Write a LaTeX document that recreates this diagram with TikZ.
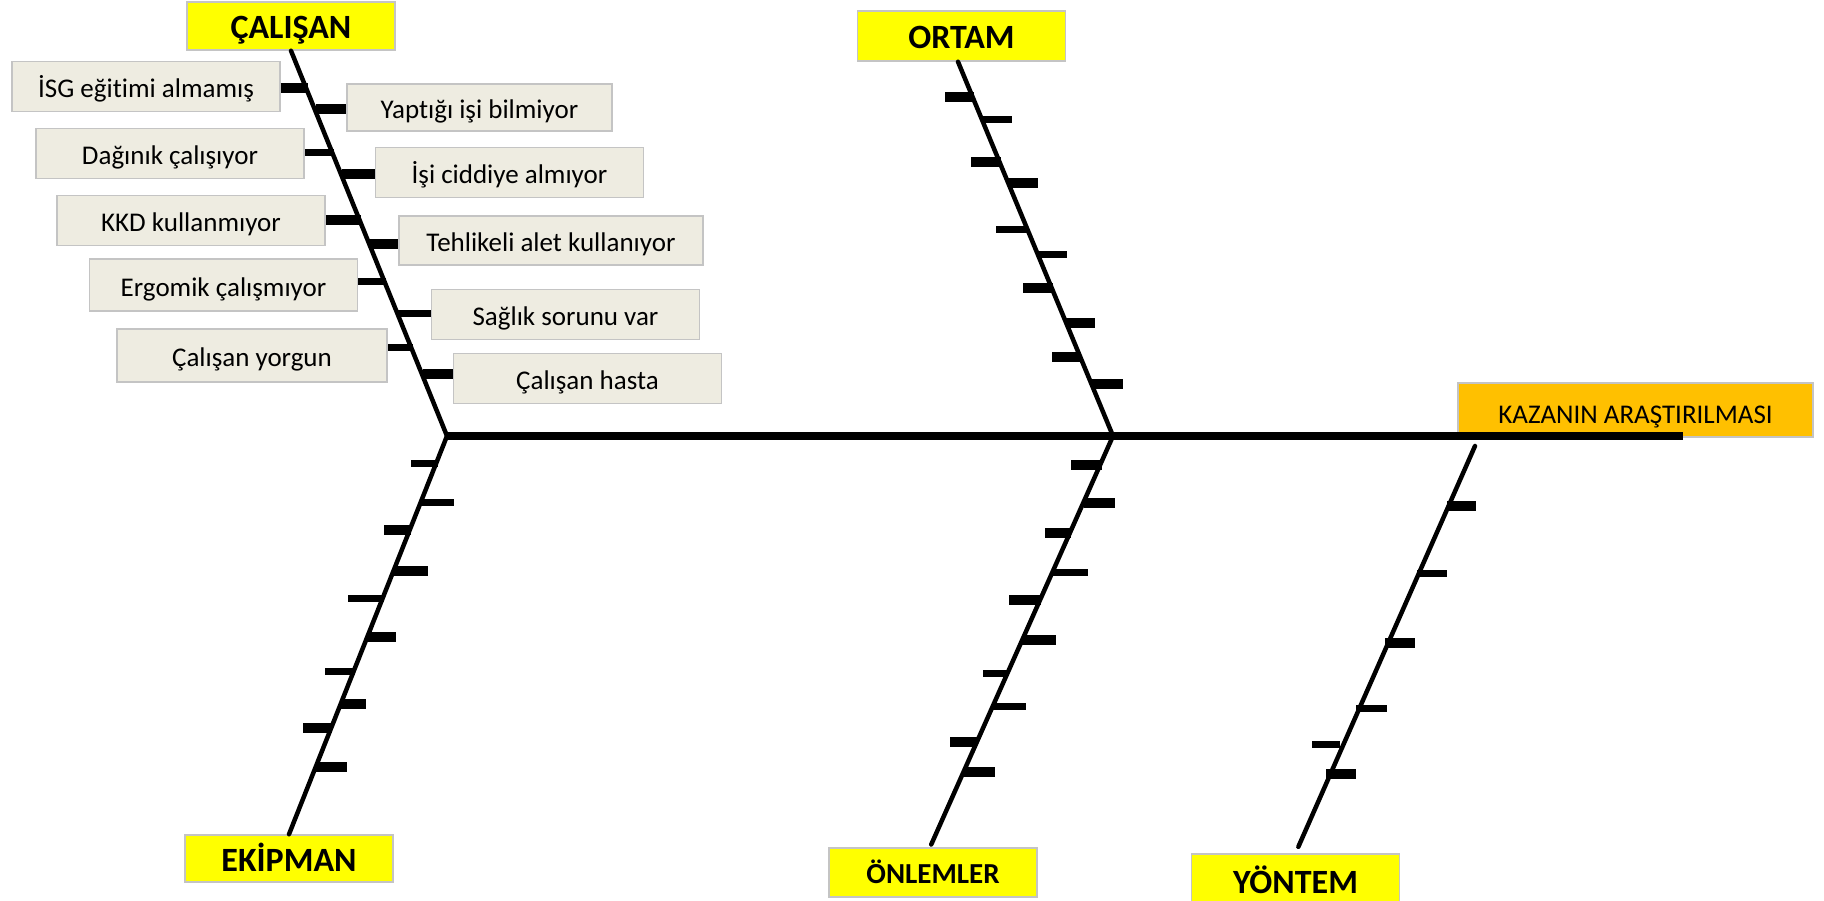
\documentclass[tikz,border=0pt]{standalone}
\usepackage{fontspec}
\setmainfont{Carlito}[RawFeature={-liga}]
\usetikzlibrary{calc}
\definecolor{lbfill}{HTML}{EEECE1}
\definecolor{lbdraw}{HTML}{C4C4C4}
\definecolor{ttfill}{HTML}{FFFF00}
\definecolor{hdfill}{HTML}{FFC000}
\tikzset{
  lbl/.style={draw=lbdraw, line width=1.5pt, fill=lbfill, minimum width=268pt, minimum height=50pt,
    inner sep=0pt, text height=22pt, text depth=0pt, font=\fontsize{27}{32}\selectfont, text=black},
  ttl/.style={draw=lbdraw, line width=1.5pt, fill=ttfill, minimum width=208pt, minimum height=48pt,
    inner sep=0pt, text height=25pt, text depth=0pt, font=\fontsize{34}{40}\selectfont\bfseries, text=black},
  hd/.style={draw=lbdraw, line width=1.5pt, fill=hdfill, minimum width=355pt, minimum height=54pt,
    inner sep=0pt, text height=26pt, text depth=0pt, font=\fontsize{27}{32}\selectfont, text=black},
  bone/.style={line width=4.5pt, line cap=round},
  spine/.style={line width=7.5pt},
  tkA/.style={line width=10pt},
  tkB/.style={line width=7pt},
}
\begin{document}
\begin{tikzpicture}[x=1pt,y=-1pt]
\useasboundingbox (0,0) rectangle (1824,900);

% category boxes
\node[ttl] (cal) at (291,26) {ÇALIŞAN};
\node[ttl, minimum height=50pt] (ort) at (961.5,36) {ORTAM};
\node[ttl, minimum height=47pt] (ekp) at (289,858.5) {EKİPMAN};
\node[ttl, minimum height=49pt, font=\fontsize{29}{34}\selectfont\bfseries, text height=22pt] (onl) at (933,872.5) {ÖNLEMLER};
\node[ttl, minimum height=54pt] (yon) at (1295.5,881) {YÖNTEM};
\node[hd] (head) at (1635.5,410) {KAZANIN ARAŞTIRILMASI};

% cause labels
\node[lbl] (l1) at (146,86.5) {İSG eğitimi almamış};
\node[lbl] (l2) at (170,153.5) {Dağınık çalışıyor};
\node[lbl] (l3) at (191,220.5) {KKD kullanmıyor};
\node[lbl, minimum height=52pt] (l4) at (223.5,285) {Ergomik çalışmıyor};
\node[lbl, minimum height=53pt, minimum width=270pt] (l5) at (252,355.5) {Çalışan yorgun};
\node[lbl, minimum width=265pt, minimum height=47pt] (r1) at (479.5,107.5) {Yaptığı işi bilmiyor};
\node[lbl] (r2) at (509.5,172.5) {İşi ciddiye almıyor};
\node[lbl, minimum width=304pt, minimum height=49pt] (r3) at (551,240.5) {Tehlikeli alet kullanıyor};
\node[lbl] (r4) at (565.5,314.5) {Sağlık sorunu var};
\node[lbl] (r5) at (587.5,378.5) {Çalışan hasta};

% spine and bones
\coordinate (j1) at (447,436);
\coordinate (j2) at (1113,436);
\coordinate (yt) at (1475,446);
\coordinate (se) at (1683,436);
\draw[spine] (j1) -- (se);
\draw[bone] (cal.south) -- (j1);
\draw[bone] (j1) -- (ekp.north);
\draw[bone] ([xshift=-3.5pt]ort.south) -- (j2);
\draw[bone, shorten >=3pt] (j2) -- ([xshift=-3pt]onl.north);
\draw[bone, shorten >=7pt] (yt) -- (yon.north);

% CALISAN ticks
\draw[tkA] (l1.east |- 0,88) -- (308,88);
\draw[tkB] (l2.east |- 0,152) -- (334,152);
\draw[tkA] (l3.east |- 0,220) -- (361,220);
\draw[tkB] (l4.east |- 0,281) -- (386,281);
\draw[tkB] (l5.east |- 0,347) -- (413,347);
\draw[tkA] (316,109) -- (r1.west |- 0,109);
\draw[tkA] (342,174) -- (r2.west |- 0,174);
\draw[tkA] (370,244) -- (r3.west |- 0,244);
\draw[tkB] (398,313) -- (r4.west |- 0,313);
\draw[tkA] (423,374) -- (r5.west |- 0,374);

% ORTAM ticks
\draw[tkA] (945,97) -- (974,97);
\draw[tkB] (981,119) -- (1012,119);
\draw[tkA] (971,162) -- (1001,162);
\draw[tkA] (1008,183) -- (1038,183);
\draw[tkB] (996,229) -- (1028,229);
\draw[tkB] (1037,254) -- (1067,254);
\draw[tkA] (1023,288) -- (1053,288);
\draw[tkA] (1066,323) -- (1095,323);
\draw[tkA] (1052,357) -- (1081,357);
\draw[tkA] (1091,384) -- (1123,384);

% EKIPMAN ticks
\draw[tkB] (411,463) -- (438,463);
\draw[tkB] (421,502) -- (454,502);
\draw[tkA] (384,530) -- (411,530);
\draw[tkA] (394,571) -- (428,571);
\draw[tkB] (348,598) -- (384,598);
\draw[tkA] (367,637) -- (396,637);
\draw[tkB] (325,671) -- (355,671);
\draw[tkA] (341,704) -- (366,704);
\draw[tkA] (303,728) -- (332,728);
\draw[tkA] (316,767) -- (347,767);

% ONLEMLER ticks
\draw[tkA] (1071,465) -- (1102,465);
\draw[tkA] (1084,503) -- (1115,503);
\draw[tkA] (1045,533) -- (1071,533);
\draw[tkB] (1053,572) -- (1088,572);
\draw[tkA] (1009,600) -- (1041,600);
\draw[tkA] (1022,640) -- (1056,640);
\draw[tkB] (983,673) -- (1008,673);
\draw[tkB] (992,706) -- (1026,706);
\draw[tkA] (950,742) -- (977,742);
\draw[tkA] (963,772) -- (995,772);

% YONTEM ticks
\draw[tkA] (1447,506) -- (1476,506);
\draw[tkB] (1417,573) -- (1447,573);
\draw[tkA] (1385,643) -- (1415,643);
\draw[tkB] (1356,708) -- (1387,708);
\draw[tkB] (1312,744) -- (1340,744);
\draw[tkA] (1326,774) -- (1356,774);
\end{tikzpicture}
\end{document}
